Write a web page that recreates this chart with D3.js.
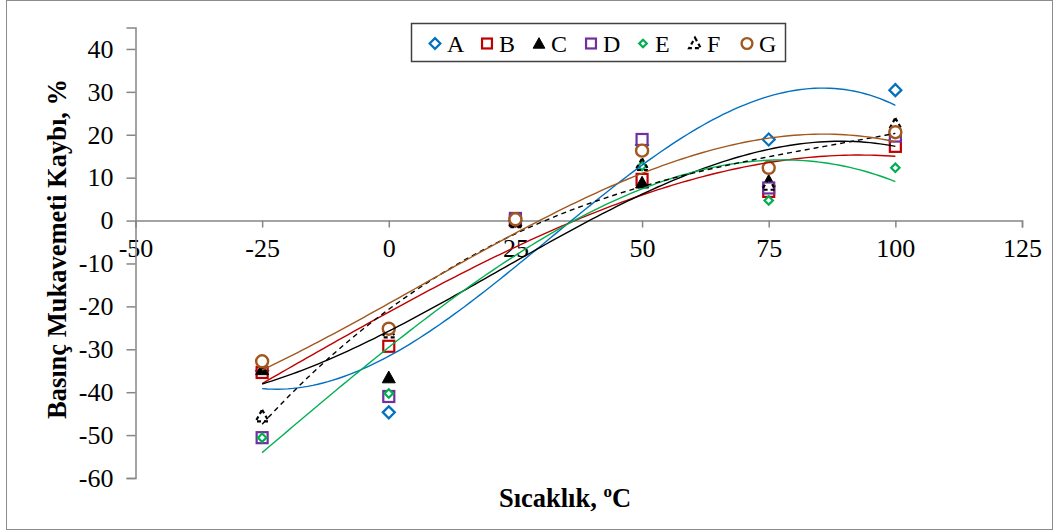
<!DOCTYPE html>
<html>
<head>
<meta charset="utf-8">
<script src="https://cdn.jsdelivr.net/npm/d3@7"></script>
<style>
  body { margin: 0; background: #fff; }
  svg { display: block; font-family: "Liberation Serif", "Times New Roman", serif; }
</style>
</head>
<body>
<script>
// temperatures (°C)
const temps = [-25, 0, 25, 50, 75, 100];

// loss of compressive strength, %
const seriesA = [-35, -44.7, 0, 17.6, 18.9, 30.4];
const seriesB = [-35.4, -29.3, 0, 9.6, 6.8, 17.3];
const seriesC = [-34.7, -36.6, 0, 8.8, 9.2, 20];
const seriesD = [-50.6, -41, 0.5, 18.9, 7.6, 19.7];
const seriesE = [-50.6, -40.3, 0, 12.7, 4.7, 12.3];
const seriesF = [-45.6, -26, -0.3, 13, 8.4, 22.4];
const seriesG = [-32.8, -25.2, 0.3, 16.3, 12.3, 20.6];

const names = ["A", "B", "C", "D", "E", "F", "G"];
const xTicks = [-50, -25, 0, 25, 50, 75, 100, 125];
const yTicks = [-60, -50, -40, -30, -20, -10, 0, 10, 20, 30, 40];

const series = [
  {name: "A", values: seriesA, color: "#0070C0", shape: "diamond", trend: true},
  {name: "B", values: seriesB, color: "#C00000", shape: "square", trend: true},
  {name: "C", values: seriesC, color: "#000000", shape: "triangle", trend: true},
  {name: "D", values: seriesD, color: "#7030A0", shape: "square", trend: false},
  {name: "E", values: seriesE, color: "#00B050", shape: "smalldiamond", trend: true},
  {name: "F", values: seriesF, color: "#000000", shape: "opentriangle", trend: true, dash: "5,4"},
  {name: "G", values: seriesG, color: "#A0581E", shape: "circle", trend: true}
];

const width = 1056, height = 531;
const x = d3.scaleLinear().domain([-50, 125]).range([135.5, 1022]);
const y = d3.scaleLinear().domain([-60, 45]).range([478, 27.5]);

const svg = d3.select("body").append("svg")
  .attr("width", width)
  .attr("height", height);

svg.append("rect")
  .attr("x", 6.5).attr("y", 0.5)
  .attr("width", 1046).attr("height", 529)
  .attr("fill", "#fff")
  .attr("stroke", "#8c8c8c");

// cubic least-squares fit (Excel polynomial trendline, order 3)
function polyFit(xs, ys, order) {
  const n = order + 1;
  const m = [];
  for (let i = 0; i < n; i++) {
    m.push(new Array(n + 1).fill(0));
    for (let j = 0; j < n; j++) {
      m[i][j] = d3.sum(xs, v => Math.pow(v, i + j));
    }
    m[i][n] = d3.sum(xs, (v, k) => ys[k] * Math.pow(v, i));
  }
  for (let c = 0; c < n; c++) {
    let p = c;
    for (let r = c + 1; r < n; r++) if (Math.abs(m[r][c]) > Math.abs(m[p][c])) p = r;
    [m[c], m[p]] = [m[p], m[c]];
    for (let r = 0; r < n; r++) {
      if (r === c) continue;
      const f = m[r][c] / m[c][c];
      for (let k = c; k <= n; k++) m[r][k] -= f * m[c][k];
    }
  }
  return m.map((row, i) => row[n] / row[i]);
}

// axes
const axisColor = "#868686";
const plain = d => String(d); // hyphen minus like Excel

const xAxis = svg.append("g")
  .attr("transform", `translate(0,${y(0)})`)
  .call(d3.axisBottom(x).tickValues(xTicks).tickSize(7).tickPadding(11).tickFormat(plain));
xAxis.select(".domain").attr("stroke", axisColor).attr("stroke-width", 1.5);
xAxis.selectAll(".tick line").attr("stroke", axisColor).attr("stroke-width", 1.5);
xAxis.selectAll(".tick text")
  .attr("fill", "#000").attr("font-size", 26).attr("font-family", "Liberation Serif, serif");

const yAxis = svg.append("g")
  .attr("transform", `translate(${x(-50)},0)`)
  .call(d3.axisLeft(y).tickValues(yTicks).tickSize(9).tickPadding(13).tickFormat(plain));
yAxis.select(".domain").attr("stroke", axisColor).attr("stroke-width", 1.5);
yAxis.selectAll(".tick line").attr("stroke", axisColor).attr("stroke-width", 1.5);
yAxis.selectAll(".tick text")
  .attr("fill", "#000").attr("font-size", 26).attr("font-family", "Liberation Serif, serif");

// markers
function drawMarker(g, shape, color, cx, cy, scale) {
  const s = scale || 1;
  if (shape === "diamond") {
    const r = 6 * s;
    g.append("path")
      .attr("d", `M${cx},${cy - r}L${cx + r},${cy}L${cx},${cy + r}L${cx - r},${cy}Z`)
      .attr("fill", "#fff").attr("stroke", color).attr("stroke-width", 2.2);
  } else if (shape === "smalldiamond") {
    const r = 4.2 * s;
    g.append("path")
      .attr("d", `M${cx},${cy - r}L${cx + r},${cy}L${cx},${cy + r}L${cx - r},${cy}Z`)
      .attr("fill", "#fff").attr("stroke", color).attr("stroke-width", 2.2);
  } else if (shape === "square") {
    const r = 5.5 * s;
    g.append("rect")
      .attr("x", cx - r).attr("y", cy - r).attr("width", 2 * r).attr("height", 2 * r)
      .attr("fill", "#fff").attr("stroke", color).attr("stroke-width", 2.2);
  } else if (shape === "triangle") {
    const r = 6.5 * s;
    g.append("path")
      .attr("d", `M${cx},${cy - r}L${cx + r},${cy + r * 0.8}L${cx - r},${cy + r * 0.8}Z`)
      .attr("fill", color).attr("stroke", color).attr("stroke-width", 1);
  } else if (shape === "opentriangle") {
    const r = 6.5 * s;
    g.append("path")
      .attr("d", `M${cx},${cy - r}L${cx + r},${cy + r * 0.8}L${cx - r},${cy + r * 0.8}Z`)
      .attr("fill", "none").attr("stroke", color).attr("stroke-width", 2.2)
      .attr("stroke-dasharray", "4,3");
  } else if (shape === "circle") {
    g.append("circle")
      .attr("cx", cx).attr("cy", cy).attr("r", 6 * s)
      .attr("fill", "#fff").attr("stroke", color).attr("stroke-width", 2.4);
  }
}

const gMarks = svg.append("g");
series.forEach(s => {
  s.values.forEach((v, i) => drawMarker(gMarks, s.shape, s.color, x(temps[i]), y(v)));
});

// trendlines
const line = d3.line().x(d => x(d[0])).y(d => y(d[1]));
const gTrend = svg.append("g").attr("fill", "none");
series.filter(s => s.trend).forEach(s => {
  const xs = temps.map(t => t / 100);
  const c = polyFit(xs, s.values, 3);
  const pts = d3.range(-25, 100.5, 1).map(t => {
    const u = t / 100;
    return [t, c[0] + c[1] * u + c[2] * u * u + c[3] * u * u * u];
  });
  gTrend.append("path")
    .attr("d", line(pts))
    .attr("stroke", s.color)
    .attr("stroke-width", 1.4)
    .attr("stroke-dasharray", s.dash || null);
});

// legend
const legend = svg.append("g");
legend.append("rect")
  .attr("x", 411.5).attr("y", 23.5).attr("width", 374).attr("height", 38)
  .attr("fill", "#fff").attr("stroke", "#404040").attr("stroke-width", 1.5);
series.forEach((s, i) => {
  const mx = 435 + i * 52;
  drawMarker(legend, s.shape, s.color, mx, 43.5, 0.9);
  legend.append("text")
    .attr("x", mx + 12).attr("y", 51.5)
    .attr("font-size", 24)
    .text(s.name);
});

// axis titles
svg.append("text")
  .attr("transform", `translate(66,249) rotate(-90)`)
  .attr("text-anchor", "middle")
  .attr("font-size", 26.5).attr("font-weight", "bold")
  .text("Basınç Mukavemeti Kaybı, %");

const xt = svg.append("text")
  .attr("x", 565).attr("y", 507)
  .attr("text-anchor", "middle")
  .attr("font-size", 26.5).attr("font-weight", "bold");
xt.append("tspan").text("Sıcaklık, ");
xt.append("tspan").attr("font-size", 17).attr("dy", -10).text("o");
xt.append("tspan").attr("dy", 10).text("C");
</script>
</body>
</html>
